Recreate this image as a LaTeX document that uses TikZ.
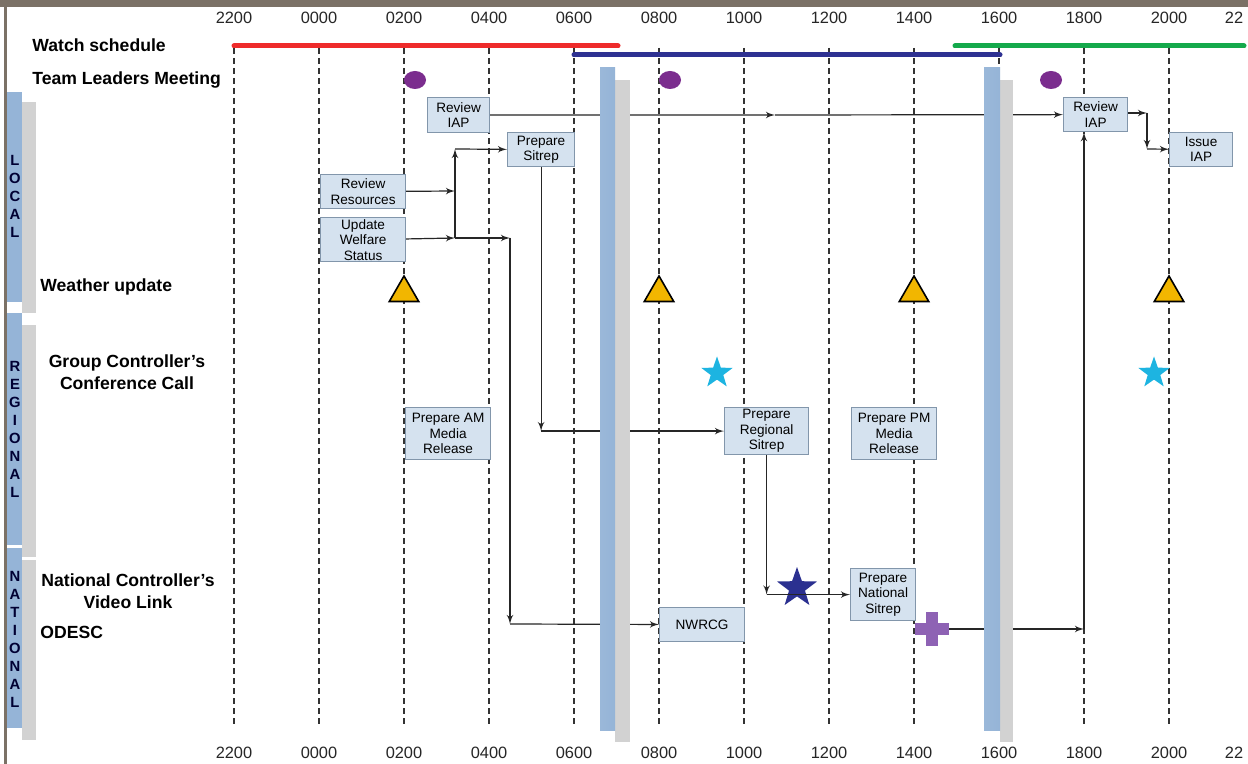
\documentclass[tikz,border=0pt]{standalone}
\usepackage{fontspec}
\setmainfont{Liberation Sans}
\usepackage{tikz}
\usetikzlibrary{arrows,shapes.geometric,positioning}

\definecolor{bandgrey}{HTML}{7B7166}
\definecolor{boxfill}{HTML}{D5E2EF}
\definecolor{boxline}{HTML}{8296AB}
\definecolor{barblue}{HTML}{95B4D7}
\definecolor{bargrey}{HTML}{D2D2D2}
\definecolor{watchred}{HTML}{EE2B2B}
\definecolor{watchblue}{HTML}{2E3192}
\definecolor{watchgreen}{HTML}{14A94B}
\definecolor{meetpurple}{HTML}{7B2D8E}
\definecolor{wxamber}{HTML}{F2B600}
\definecolor{callcyan}{HTML}{1DB4E1}
\definecolor{starblue}{HTML}{2B3090}
\definecolor{pluspurple}{HTML}{8E62B4}

\begin{document}
\begin{tikzpicture}[x=0.5pt,y=-0.5pt,>=latex',
  task/.style={draw=boxline,fill=boxfill,line width=0.6pt,inner sep=0pt,
    align=center,font=\fontsize{6.8}{7.7}\selectfont},
  rowlabel/.style={font=\fontsize{8.8}{11}\selectfont\bfseries,align=center,inner sep=0pt},
  hour/.style={font=\fontsize{8.2}{10}\selectfont,text=black!85},
  tier/.style={font=\fontsize{7.4}{9}\selectfont\bfseries,align=center,text=black!80!blue},
  gridline/.style={dash pattern=on 3pt off 2pt,line width=0.9pt,black!80},
  flow/.style={->,line width=0.6pt,black!85},
  watch/.style={line width=2.5pt,line cap=round},
  meeting/.style={ellipse,fill=meetpurple,minimum width=11pt,minimum height=9pt,inner sep=0pt},
  weather/.style={regular polygon,regular polygon sides=3,draw=black,line width=0.8pt,
    fill=wxamber,minimum size=17pt,inner sep=0pt},
  callstar/.style={star,star points=5,star point ratio=2.5,fill=callcyan,
    minimum size=16.5pt,inner sep=0pt},
  videostar/.style={star,star points=5,star point ratio=2.5,fill=starblue,
    minimum size=21pt,inner sep=0pt},
  plussign/.style={minimum size=17pt,inner sep=0pt,path picture={
    \fill[pluspurple] ([xshift=-8.5pt,yshift=-3pt]path picture bounding box.center)
      rectangle ([xshift=8.5pt,yshift=3pt]path picture bounding box.center);
    \fill[pluspurple] ([xshift=-3pt,yshift=-8.5pt]path picture bounding box.center)
      rectangle ([xshift=3pt,yshift=8.5pt]path picture bounding box.center);}},
  bluebar/.style={left color=barblue!95,middle color=barblue!75!white,right color=barblue}]

  \useasboundingbox (0,0) rectangle (1248,764);
  \fill[white] (0,0) rectangle (1248,764);
  \fill[bandgrey] (0,0) rectangle (1248,7);
  \fill[bandgrey] (4,0) rectangle (7,764);

  % tiers down the left
  \fill[bargrey] (22,102) rectangle (36,313);
  \fill[barblue] (7,92) rectangle (22,302);
  \fill[bargrey] (22,325) rectangle (36,557);
  \fill[barblue] (7,313) rectangle (22,545);
  \fill[bargrey] (22,560) rectangle (36,740);
  \fill[barblue] (7,548) rectangle (22,728);
  \node[tier] (local) at (15,196) {L\\O\\C\\A\\L};
  \node[tier] (regional) at (15,429) {R\\E\\G\\I\\O\\N\\A\\L};
  \node[tier] (national) at (15,639) {N\\A\\T\\I\\O\\N\\A\\L};

  % time axis
  \foreach \t [count=\i from 0] in {2200,0000,0200,0400,0600,0800,1000,1200,1400,1600,1800,2000}{
    \draw[gridline] (234+85*\i,48) -- (234+85*\i,727);
    \node[hour] (top\i) at (234+85*\i,18) {\t};
    \node[hour] (bot\i) at (234+85*\i,753) {\t};
  }
  \node[hour] (topend) at (1234,18) {22};
  \node[hour] (botend) at (1234,753) {22};

  % watches
  \draw[watch,watchred] (234,46) -- (618,46);
  \draw[watch,watchblue] (574,55) -- (1000,55);
  \draw[watch,watchgreen] (955,46) -- (1244,46);

  % row labels
  \node[rowlabel,anchor=west] (watchlbl) at (32,45) {Watch schedule};
  \node[rowlabel,anchor=west] (teamlbl) at (32,80) {Team Leaders Meeting};
  \node[rowlabel,anchor=west] (wxlbl) at (40,287) {Weather update};
  \node[rowlabel] (grouplbl) at (127,372) {Group Controller's\\Conference Call};
  \node[rowlabel] (natlbl) at (128,591) {National Controller's\\Video Link};
  \node[rowlabel,anchor=west] (odesclbl) at (40,632) {ODESC};

  % meetings
  \node[meeting] (tlm1) at (415,80) {};
  \node[meeting] (tlm2) at (670,80) {};
  \node[meeting] (tlm3) at (1051,80) {};

  % tasks
  \node[task,anchor=north west,minimum width=31pt,minimum height=17.5pt] (riap1) at (427,97) {Review\\IAP};
  \node[task,anchor=north west,minimum width=33.5pt,minimum height=17pt] (sitrep) at (507,132) {Prepare\\Sitrep};
  \node[task,anchor=north west,minimum width=42.5pt,minimum height=17pt] (resources) at (320,174) {Review\\Resources};
  \node[task,below=4pt of resources,minimum width=42.5pt,minimum height=22pt] (welfare) {Update\\Welfare\\Status};
  \node[task,anchor=north west,minimum width=32pt,minimum height=17pt] (riap2) at (1063,97) {Review\\IAP};
  \node[task,anchor=north west,minimum width=31.5pt,minimum height=17pt] (issue) at (1169,132) {Issue\\IAP};
  \node[task,anchor=north west,minimum width=42.5pt,minimum height=26pt] (ammedia) at (405,407) {Prepare AM\\Media\\Release};
  \node[task,anchor=north west,minimum width=42pt,minimum height=23.5pt] (regsitrep) at (724,407) {Prepare\\Regional\\Sitrep};
  \node[task,anchor=north west,minimum width=42.5pt,minimum height=26pt] (pmmedia) at (851,407) {Prepare PM\\Media\\Release};
  \node[task,anchor=north west,minimum width=32.5pt,minimum height=26pt] (natsitrep) at (850,568) {Prepare\\National\\Sitrep};
  \node[task,anchor=north west,minimum width=42.5pt,minimum height=17pt] (nwrcg) at (659,607) {NWRCG};

  % symbols
  \foreach \x [count=\i] in {404,659,914,1169}
    \node[weather] (wx\i) at (\x,293) {};
  \node[callstar] (call1) at (717,373) {};
  \node[callstar] (call2) at (1154,373) {};
  \node[videostar] (video) at (797,588) {};
  \node[plussign] (plus) at (932,629) {};

  % flows
  \coordinate (mid) at (775,115);
  \coordinate (jres) at (455,191);
  \coordinate (jwel) at (455,238);
  \coordinate (jup) at (455,149);
  \coordinate (jnw) at (510,238);
  \coordinate (jnwd) at (510,624);
  \coordinate (jsit) at (sitrep |- regsitrep);
  \coordinate (jreg) at (regsitrep |- natsitrep);
  \coordinate (jiap) at (1147,113);
  \coordinate (jiapd) at (1147,149);
  \coordinate (jodesc) at (1084,629);

  \draw[flow] (riap1) -- (mid);
  \draw[flow] (mid) -- (riap2);
  \draw[flow] (riap2.east |- jiap) -- (jiap);
  \draw[flow] (jiap) -- (jiapd);
  \draw[flow] (jiapd) -- (issue);
  \draw[flow] (resources) -- (jres);
  \draw[flow] (welfare) -- (jwel);
  \draw[flow] (jwel) -- (jup);
  \draw[flow] (jup) -- (sitrep);
  \draw[flow] (jwel) -- (jnw);
  \draw[flow] (jnw) -- (jnwd);
  \draw[flow] (jnwd) -- (nwrcg);
  \draw[flow] (sitrep) -- (jsit);
  \draw[flow] (jsit) -- (regsitrep);
  \draw[flow] (regsitrep) -- (jreg);
  \draw[flow] (jreg) -- (natsitrep);
  \draw[flow] (plus) -- (jodesc);
  \draw[flow] (jodesc) -- (jodesc |- riap2.south);

  % handover bars
  \fill[bargrey] (615,80) rectangle (630,742);
  \shade[bluebar] (600,68) rectangle (615,730);
  \fill[bargrey] (1000,80) rectangle (1013,742);
  \shade[bluebar] (984,68) rectangle (1000,730);

\end{tikzpicture}
\end{document}
